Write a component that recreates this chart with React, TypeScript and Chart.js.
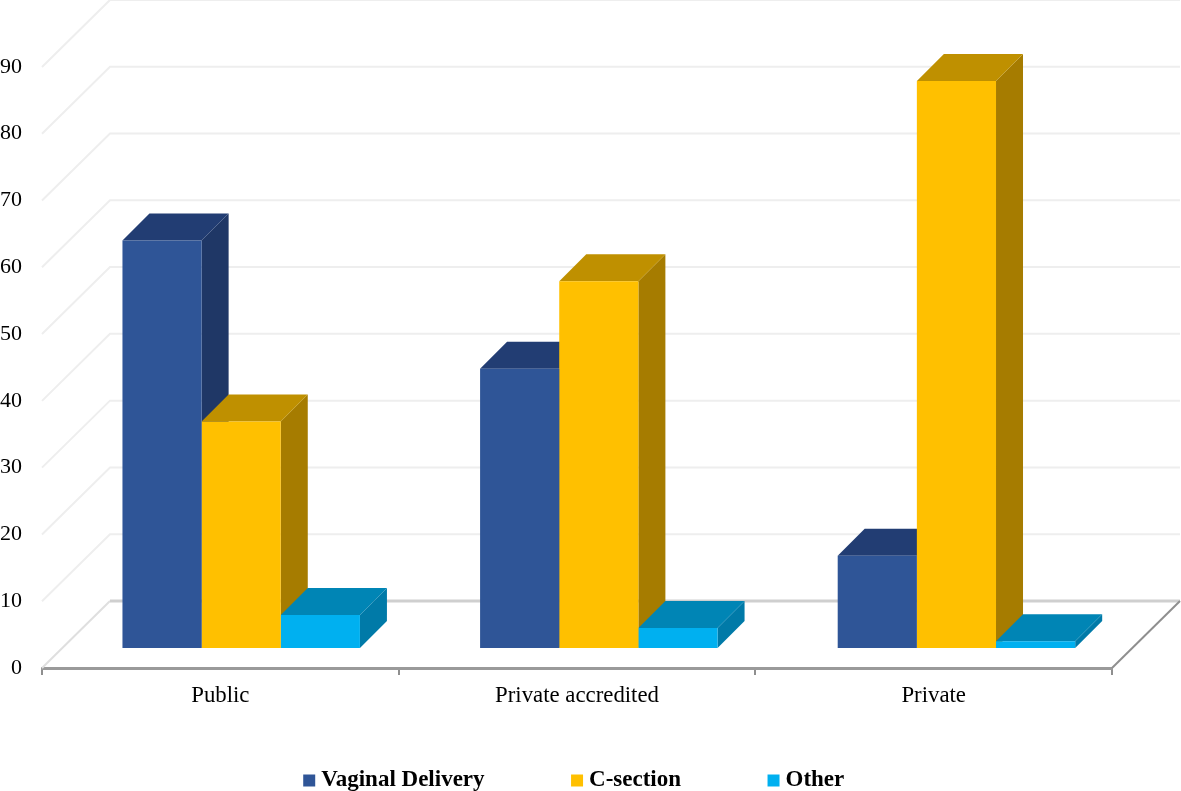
import React, { useEffect, useRef } from "react";
import { Chart, registerables } from "chart.js";

Chart.register(...registerables);

const categories = ["Public", "Private accredited", "Private"];
const vaginalDelivery = [61.0, 41.8, 13.8];
const cSection = [33.9, 54.9, 84.9];
const other = [4.95, 3.0, 1.0];

const SERIF = '"Liberation Serif", "Times New Roman", serif';
const CANVAS_W = 1181;
const CANVAS_H = 802;
const LEGEND_RIGHT = 1153;
const DEPTH_X = 68;
const DEPTH_Y = 67;
const BAR_DEPTH = 27;

const faces = [
  { side: "#1f3766", top: "#223d73" },
  { side: "#a67c00", top: "#bf9000" },
  { side: "#007aa8", top: "#0085b5" },
];

function poly(ctx: CanvasRenderingContext2D, pts: number[][], fill: string) {
  ctx.beginPath();
  pts.forEach(([x, y], i) => (i ? ctx.lineTo(x, y) : ctx.moveTo(x, y)));
  ctx.closePath();
  ctx.fillStyle = fill;
  ctx.fill();
}

function line(ctx: CanvasRenderingContext2D, pts: number[][], color: string, width: number) {
  ctx.beginPath();
  pts.forEach(([x, y], i) => (i ? ctx.lineTo(x, y) : ctx.moveTo(x, y)));
  ctx.strokeStyle = color;
  ctx.lineWidth = width;
  ctx.stroke();
}

const box3d = {
  id: "box3d",
  afterLayout(chart: any) {
    // the tick labels are clipped to the axis box, which is kept short for the legend
    chart.scales.x.bottom += 50;
  },
  beforeDatasetsDraw(chart: any) {
    const { ctx, chartArea, scales } = chart;
    const { left, right } = chartArea;
    ctx.save();
    scales.y.ticks.forEach((t: any) => {
      const y = scales.y.getPixelForValue(t.value);
      if (t.value === 0) return;
      line(ctx, [[left, y], [left + DEPTH_X, y - DEPTH_Y], [right + DEPTH_X, y - DEPTH_Y]], "#eeeeee", 2);
    });
    const y0 = scales.y.getPixelForValue(0);
    line(ctx, [[left, y0], [left + DEPTH_X, y0 - DEPTH_Y]], "#dfdfdf", 2);
    line(ctx, [[left + DEPTH_X, y0 - DEPTH_Y], [right + DEPTH_X, y0 - DEPTH_Y]], "#cfcfcf", 3);
    line(ctx, [[right, y0], [right + DEPTH_X, y0 - DEPTH_Y]], "#8f8f8f", 2);
    chart.data.datasets.forEach((_: any, di: number) => {
      chart.getDatasetMeta(di).data.forEach((bar: any) => {
        const { x, y, base, width } = bar.getProps(["x", "y", "base", "width"]);
        const r = x + width / 2;
        const l = x - width / 2;
        poly(ctx, [[r, y], [r + BAR_DEPTH, y - BAR_DEPTH], [r + BAR_DEPTH, base - BAR_DEPTH], [r, base]], faces[di].side);
        poly(ctx, [[l, y], [l + BAR_DEPTH, y - BAR_DEPTH], [r + BAR_DEPTH, y - BAR_DEPTH], [r, y]], faces[di].top);
      });
    });
    ctx.restore();
  },
};

export default function App() {
  const ref = useRef<HTMLCanvasElement>(null);
  useEffect(() => {
    const toPoints = (vals: number[]) => vals.map((v, i) => ({ x: i, y: v }));
    const chart = new Chart(ref.current!, {
      type: "bar",
      data: {
        labels: categories,
        datasets: [
          { label: "Vaginal Delivery", data: toPoints(vaginalDelivery), backgroundColor: "#2f5597" },
          { label: "C-section", data: toPoints(cSection), backgroundColor: "#ffc000" },
          { label: "Other", data: toPoints(other), backgroundColor: "#00b0f0" },
        ].map((d) => ({
          ...d,
          xAxisID: "xBars",
          yAxisID: "yBars",
          borderWidth: 0,
          barPercentage: 1,
          categoryPercentage: 0.664,
        })) as any,
      },
      plugins: [box3d],
      options: {
        animation: false,
        responsive: false,
        layout: { autoPadding: false, padding: { top: 2, right: CANVAS_W - LEGEND_RIGHT } },
        plugins: {
          tooltip: { enabled: false },
          legend: {
            position: "bottom",
            labels: {
              usePointStyle: true,
              pointStyle: "rect",
              boxWidth: 1,
              boxHeight: 12,
              padding: 92,
              color: "#000",
              font: { family: SERIF, size: 23, weight: "bold" },
            },
          },
        },
        scales: {
          x: {
            type: "category",
            position: "bottom",
            offset: true,
            afterFit: (s: any) => { s.height = 9; },
            grid: { offset: true, drawOnChartArea: false, drawTicks: true, tickLength: 7, color: "#8f8f8f", lineWidth: 2 },
            border: { display: true, color: "#9a9a9a", width: 3 },
            ticks: { color: "#000", padding: 7, maxRotation: 0, font: { family: SERIF, size: 22.8 } },
          },
          xBars: {
            type: "linear",
            display: false,
            position: "bottom",
            offset: false,
            grid: { offset: false },
            min: -0.557,
            max: 2.435,
            ticks: { stepSize: 1, includeBounds: false },
          },
          y: {
            type: "linear",
            position: "left",
            min: 0,
            max: 95.05,
            afterFit: (s: any) => { s.width = 42; },
            grid: { display: false, drawTicks: false },
            border: { display: false },
            ticks: { stepSize: 10, includeBounds: false, color: "#000", padding: 20, font: { family: SERIF, size: 22 } },
          },
          yBars: {
            type: "linear",
            position: "right",
            min: -3,
            max: 92.05,
            afterFit: (s: any) => { s.width = LEGEND_RIGHT - 1112; },
            grid: { display: false },
            border: { display: false },
            ticks: { display: false },
          },
        },
      } as any,
    });
    return () => chart.destroy();
  }, []);
  return (
    <div style={{ position: "fixed", left: 0, top: 0, width: 1181, height: 791, overflow: "hidden", background: "#fff" }}>
      <canvas ref={ref} width={CANVAS_W} height={CANVAS_H} style={{ display: "block" }} />
    </div>
  );
}
